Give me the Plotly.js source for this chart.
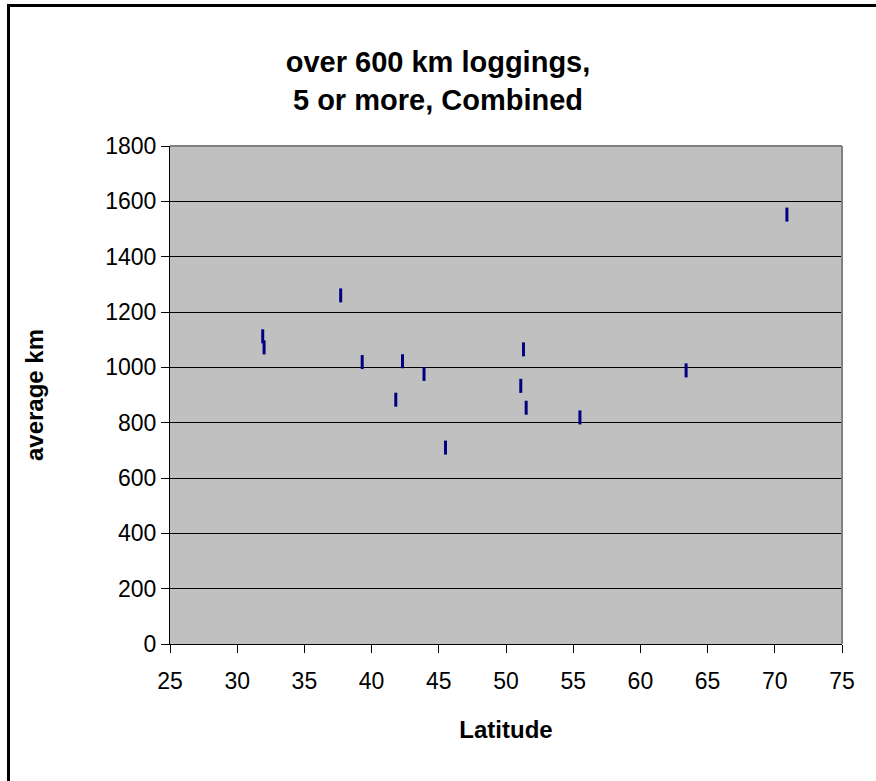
<!DOCTYPE html>
<html>
<head>
<meta charset="utf-8">
<script src="https://cdn.plot.ly/plotly-3.0.1.min.js"></script>
<style>
  html, body { margin: 0; padding: 0; background: #ffffff; }
  #chart { width: 876px; height: 781px; }
  #frame { position: absolute; left: 7px; top: 4px; width: 1000px; height: 1000px;
           border-left: 3px solid #000; border-top: 3px solid #000; pointer-events: none; }
</style>
</head>
<body>
<div id="chart"></div>
<div id="frame"></div>
<script>
// Data
const latitude = [31.9, 32.0, 37.7, 39.3, 41.8, 42.3, 43.9, 45.5, 51.1, 51.3, 51.5, 55.5, 63.4, 70.9];
const averageKm = [1112, 1072, 1260, 1019, 883, 1022, 976, 710, 933, 1065, 854, 819, 989, 1552];
const xTicks = [25, 30, 35, 40, 45, 50, 55, 60, 65, 70, 75];
const yTicks = [0, 200, 400, 600, 800, 1000, 1200, 1400, 1600, 1800];
const titleText = 'over 600 km loggings,<br>5 or more, Combined';
const xTitle = 'Latitude';
const yTitle = 'average km';

const font = 'Arial, "Liberation Sans", sans-serif';

const trace = {
  x: latitude,
  y: averageKm,
  type: 'scatter',
  mode: 'markers',
  marker: {
    symbol: 'line-ns',
    size: 10,
    color: '#000080',
    line: { color: '#000080', width: 3 }
  },
  hoverinfo: 'x+y'
};

const layout = {
  width: 876,
  height: 781,
  autosize: false,
  margin: { l: 170, r: 34, t: 146, b: 137, pad: 0 },
  paper_bgcolor: '#ffffff',
  plot_bgcolor: '#c0c0c0',
  showlegend: false,
  font: { family: font, color: '#000000', size: 24 },
  title: {
    text: titleText,
    font: { family: font, size: 29, color: '#000', weight: 'bold' },
    xref: 'container', x: 0.5, xanchor: 'center',
    yref: 'container', y: 0.908, yanchor: 'top'
  },
  xaxis: {
    range: [25, 75],
    tickvals: xTicks,
    ticktext: xTicks.map(String),
    ticks: 'outside', ticklen: 8, tickwidth: 1, tickcolor: '#000',
    ticklabelstandoff: 8,
    showline: true, linecolor: '#000', linewidth: 1,
    showgrid: false, zeroline: false,
    tickfont: { family: font, size: 23, color: '#000' },
    title: { text: xTitle, font: { family: font, size: 24, color: '#000', weight: 'bold' }, standoff: 28 },
    fixedrange: true
  },
  yaxis: {
    range: [0, 1800],
    tickvals: yTicks,
    ticktext: yTicks.map(String),
    ticks: 'outside', ticklen: 8, tickwidth: 1, tickcolor: '#000',
    showline: true, linecolor: '#000', linewidth: 1,
    showgrid: true, gridcolor: '#000', gridwidth: 1,
    zeroline: false,
    tickfont: { family: font, size: 23, color: '#000' },
    title: { text: yTitle, font: { family: font, size: 24, color: '#000', weight: 'bold' }, standoff: 54 },
    fixedrange: true
  },
  shapes: [
    { type: 'line', xref: 'paper', yref: 'paper', x0: 1, x1: 1, y0: 0, y1: 1,
      line: { color: '#808080', width: 2 } },
    { type: 'line', xref: 'paper', yref: 'paper', x0: 0, x1: 1, y0: 1, y1: 1,
      line: { color: '#808080', width: 2 } }
  ]
};

Plotly.newPlot('chart', [trace], layout, { displayModeBar: false, staticPlot: true });
</script>
</body>
</html>
